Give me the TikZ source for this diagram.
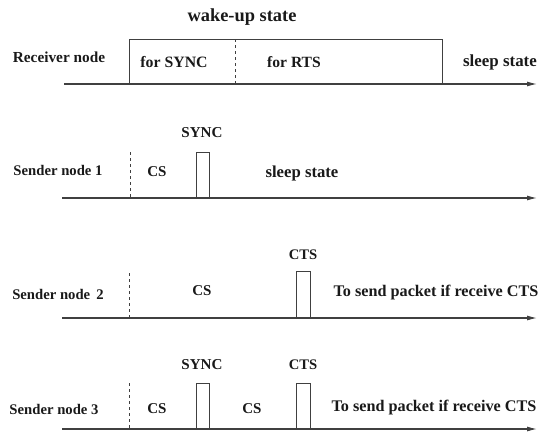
\documentclass[tikz,border=0pt]{standalone}
\usepackage{fontspec}
\setmainfont{Liberation Serif}
\usetikzlibrary{arrows.meta}
\newcommand{\fs}[1]{\fontsize{#1}{#1}\selectfont}
\begin{document}
\begin{tikzpicture}[x=1pt,y=-1pt,
  lbl/.style={font=\bfseries\fs{15.3}, inner sep=0pt, text=black!90},
  axis/.style={draw=black!75, line width=1.1pt, -{Latex[length=10pt,width=5pt]}},
  frame/.style={draw=black!75, line width=1pt},
  sep/.style={draw=black!75, line width=0.8pt, dash pattern=on 3pt off 3pt}]
\useasboundingbox (0,0) rectangle (543,434);

% ---- Receiver node ----
\coordinate (r0) at (64,84);
\coordinate (r1) at (537,84);
\draw[axis] (r0) -- (r1);
\coordinate (rbA) at (129,84);
\coordinate (rbB) at (442,39);
\draw[frame] (rbA) |- (rbB) -- (rbB |- rbA);
\coordinate (rdT) at (235,39);
\coordinate (rdB) at (235,84);
\draw[sep] (rdT) -- (rdB);
\node[lbl, font=\bfseries\fs{18.4}] (wake) at (242,17) {wake-up state};
\node[lbl] (recv) at (59,57) {Receiver node};
\node[lbl, font=\bfseries\fs{15.8}] (fsync) at (174,62) {for SYNC};
\node[lbl, font=\bfseries\fs{15.6}] (frts) at (294,62) {for RTS};
\node[lbl, font=\bfseries\fs{16.9}] (sl0) at (500,62) {sleep state};

% ---- Sender node 1 ----
\coordinate (a0) at (62,198);
\coordinate (a1) at (537,198);
\draw[axis] (a0) -- (a1);
\coordinate (adT) at (130,152);
\coordinate (adB) at (130,198);
\draw[sep] (adT) -- (adB);
\coordinate (ap0) at (196,198);
\coordinate (ap1) at (209,152);
\draw[frame] (ap0) |- (ap1) -- (ap1 |- ap0);
\node[lbl, font=\bfseries\fs{14.7}] (s1) at (58,170) {Sender node 1};
\node[lbl, font=\bfseries\fs{15.1}] (a_sync) at (202,133) {SYNC};
\node[lbl, font=\bfseries\fs{15}] (a_cs) at (157,172) {CS};
\node[lbl, font=\bfseries\fs{16.7}] (a_sl) at (302,173) {sleep state};

% ---- Sender node 2 ----
\coordinate (b0) at (62,318);
\coordinate (b1) at (537,318);
\draw[axis] (b0) -- (b1);
\coordinate (bdT) at (129,273);
\coordinate (bdB) at (129,318);
\draw[sep] (bdT) -- (bdB);
\coordinate (bp0) at (296,318);
\coordinate (bp1) at (310,271);
\draw[frame] (bp0) |- (bp1) -- (bp1 |- bp0);
\node[lbl, font=\bfseries\fs{14.7}] (s2) at (58,294) {Sender node\, 2};
\node[lbl, font=\bfseries\fs{15}] (b_cs) at (202,291) {CS};
\node[lbl, font=\bfseries\fs{14.6}] (b_cts) at (303,255) {CTS};
\node[lbl, font=\bfseries\fs{16.2}] (b_tx) at (436,293) {To send packet if receive CTS};

% ---- Sender node 3 ----
\coordinate (c0) at (62,429);
\coordinate (c1) at (537,429);
\draw[axis] (c0) -- (c1);
\coordinate (cdT) at (129,383);
\coordinate (cdB) at (129,429);
\draw[sep] (cdT) -- (cdB);
\coordinate (cp0) at (196,429);
\coordinate (cp1) at (209,383);
\draw[frame] (cp0) |- (cp1) -- (cp1 |- cp0);
\coordinate (cq0) at (296,429);
\coordinate (cq1) at (310,383);
\draw[frame] (cq0) |- (cq1) -- (cq1 |- cq0);
\node[lbl, font=\bfseries\fs{14.7}] (s3) at (54,409) {Sender node 3};
\node[lbl, font=\bfseries\fs{15.1}] (c_sync) at (202,365) {SYNC};
\node[lbl, font=\bfseries\fs{14.6}] (c_cts) at (303,365) {CTS};
\node[lbl, font=\bfseries\fs{15}] (c_cs1) at (157,409) {CS};
\node[lbl, font=\bfseries\fs{15}] (c_cs2) at (252,409) {CS};
\node[lbl, font=\bfseries\fs{16.2}] (c_tx) at (434,408) {To send packet if receive CTS};
\end{tikzpicture}
\end{document}
